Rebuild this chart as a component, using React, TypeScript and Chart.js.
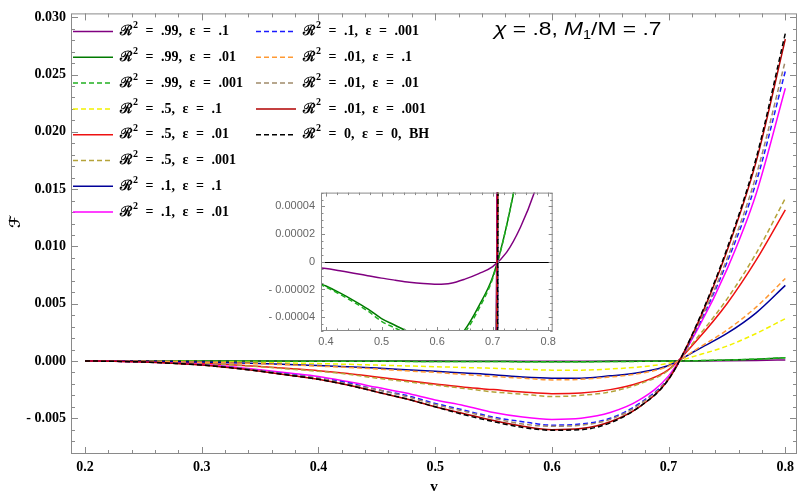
import { useEffect, useRef } from "react"
import { Chart, registerables } from "chart.js"

Chart.register(...registerables)

// sample points along v
const vValues = [0.2, 0.225, 0.25, 0.275, 0.3, 0.325, 0.35, 0.375, 0.4, 0.425, 0.45, 0.475, 0.5, 0.525, 0.55, 0.575, 0.6, 0.625, 0.65, 0.675, 0.7, 0.725, 0.75, 0.775, 0.8]

// F(v) for each (R^2, eps) pair
const fR99e1 = [0, -0.0000005, -0.000001, -0.0000015, -0.000002, -0.0000027, -0.0000033, -0.000004, -0.0000048, -0.0000065, -0.0000082, -0.00001, -0.0000118, -0.0000133, -0.0000147, -0.0000157, -0.0000162, -0.0000155, -0.0000125, -0.0000085, -0.0000035, 0.0000068, 0.000025, 0.00005, 0.000085]
const fR99e01 = [0, -0.000001, -0.000002, -0.000003, -0.000005, -0.000007, -0.0000095, -0.0000135, -0.0000175, -0.0000225, -0.000028, -0.000034, -0.000041, -0.000046, -0.000051, -0.000057, -0.00006, -0.000058, -0.000049, -0.000032, -0.000011, 0.000026, 0.000078, 0.00016, 0.00028]
const fR99e001 = [0, -0.000001, -0.000002, -0.0000032, -0.0000052, -0.0000075, -0.00001, -0.0000142, -0.0000183, -0.0000235, -0.0000292, -0.0000355, -0.000043, -0.000048, -0.000053, -0.000059, -0.000062, -0.00006, -0.000051, -0.000034, -0.000012, 0.000026, 0.00008, 0.000165, 0.00029]
const fR5e1 = [0, -0.00001, -0.00002, -0.00003, -0.00006, -0.00009, -0.00013, -0.00018, -0.00023, -0.00029, -0.00036, -0.00043, -0.0005, -0.00057, -0.00064, -0.00072, -0.0008, -0.0008, -0.0007, -0.00052, -0.0002, 0.0005, 0.0013, 0.0024, 0.0037]
const fR5e01 = [0, -0.00002, -0.00005, -0.0001, -0.0002, -0.00032, -0.00048, -0.00066, -0.00085, -0.0011, -0.0014, -0.0017, -0.002, -0.0023, -0.0025, -0.0027, -0.00285, -0.0028, -0.0025, -0.0019, -0.00075, 0.0019, 0.005, 0.0088, 0.0132]
const fR5e001 = [0, -0.00002, -0.00005, -0.00011, -0.00021, -0.00034, -0.0005, -0.0007, -0.0009, -0.00115, -0.0015, -0.0018, -0.0021, -0.0024, -0.0027, -0.0029, -0.0031, -0.003, -0.0027, -0.002, -0.0008, 0.0021, 0.0054, 0.0094, 0.0142]
const fR1e1 = [0, -0.00001, -0.00002, -0.00005, -0.0001, -0.00015, -0.00022, -0.0003, -0.0004, -0.0005, -0.00062, -0.00077, -0.0009, -0.00105, -0.0012, -0.0014, -0.0015, -0.0015, -0.0013, -0.001, -0.0004, 0.001, 0.0024, 0.0042, 0.0066]
const fR1e01 = [0, -0.00003, -0.00008, -0.00017, -0.0003, -0.0005, -0.00076, -0.00105, -0.00135, -0.0018, -0.0023, -0.0028, -0.0034, -0.0039, -0.0045, -0.0049, -0.0051, -0.005, -0.0045, -0.0034, -0.0013, 0.0028, 0.008, 0.0146, 0.0238]
const fR1e001 = [0, -0.00003, -0.00008, -0.00018, -0.00032, -0.00055, -0.00083, -0.00115, -0.0015, -0.0019, -0.0025, -0.003, -0.0037, -0.0043, -0.0049, -0.0053, -0.0056, -0.0055, -0.005, -0.0037, -0.0015, 0.003, 0.0086, 0.0156, 0.0253]
const fR01e1 = [0, -0.00001, -0.00003, -0.00006, -0.00011, -0.00017, -0.00025, -0.00034, -0.00045, -0.00056, -0.0007, -0.00086, -0.001, -0.00118, -0.00135, -0.0015, -0.00165, -0.0016, -0.0014, -0.0011, -0.00045, 0.0011, 0.0027, 0.0047, 0.0072]
const fR01e01 = [0, -0.00003, -0.00008, -0.00019, -0.00033, -0.00056, -0.00085, -0.0012, -0.0015, -0.002, -0.0025, -0.0031, -0.0038, -0.0044, -0.005, -0.0055, -0.0057, -0.0056, -0.0051, -0.0038, -0.0015, 0.0031, 0.0089, 0.0162, 0.0262]
const fR01e001 = [0, -0.00003, -0.00009, -0.0002, -0.00035, -0.0006, -0.0009, -0.00124, -0.0016, -0.0021, -0.0027, -0.0033, -0.004, -0.0046, -0.0052, -0.0057, -0.006, -0.0059, -0.0053, -0.004, -0.0016, 0.0033, 0.0096, 0.0174, 0.0281]
const fBH = [0, -0.00003, -0.00009, -0.0002, -0.00035, -0.0006, -0.0009, -0.00125, -0.0016, -0.0021, -0.0027, -0.0033, -0.004, -0.0047, -0.0053, -0.0058, -0.00605, -0.006, -0.0054, -0.004, -0.0016, 0.0034, 0.0098, 0.0177, 0.0286]

const xTicks = [0.2, 0.3, 0.4, 0.5, 0.6, 0.7, 0.8]
const xTickLabels = ["0.2", "0.3", "0.4", "0.5", "0.6", "0.7", "0.8"]
const yTicks = [-0.005, 0, 0.005, 0.01, 0.015, 0.02, 0.025, 0.03]
const yTickLabels = ["- 0.005", "0.000", "0.005", "0.010", "0.015", "0.020", "0.025", "0.030"]

const insetXTicks = [0.4, 0.5, 0.6, 0.7, 0.8]
const insetXTickLabels = ["0.4", "0.5", "0.6", "0.7", "0.8"]
const insetYTicks = [-0.00004, -0.00002, 0, 0.00002, 0.00004]
const insetYTickLabels = ["- 0.00004", "- 0.00002", "0", "0.00002", "0.00004"]

const series = [
  { label: "ℛ² = .99, ε = .1", values: fR99e1, color: "#800080", dashed: false },
  { label: "ℛ² = .99, ε = .01", values: fR99e01, color: "#007a00", dashed: false },
  { label: "ℛ² = .99, ε = .001", values: fR99e001, color: "#22b022", dashed: true },
  { label: "ℛ² = .5, ε = .1", values: fR5e1, color: "#f2f200", dashed: true },
  { label: "ℛ² = .5, ε = .01", values: fR5e01, color: "#ee1111", dashed: false },
  { label: "ℛ² = .5, ε = .001", values: fR5e001, color: "#b5a33a", dashed: true },
  { label: "ℛ² = .1, ε = .1", values: fR1e1, color: "#000099", dashed: false },
  { label: "ℛ² = .1, ε = .01", values: fR1e01, color: "#ff00ff", dashed: false },
  { label: "ℛ² = .1, ε = .001", values: fR1e001, color: "#1a1aff", dashed: true },
  { label: "ℛ² = .01, ε = .1", values: fR01e1, color: "#ff9933", dashed: true },
  { label: "ℛ² = .01, ε = .01", values: fR01e01, color: "#a08a6a", dashed: true },
  { label: "ℛ² = .01, ε = .001", values: fR01e001, color: "#b00000", dashed: false },
  { label: "ℛ² = 0, ε = 0, BH", values: fBH, color: "#000000", dashed: true },
]

const SERIF = "'Liberation Serif', 'DejaVu Serif', serif"
const SANS = "'Liberation Sans', Arial, sans-serif"
const FRAME = "#8a8a8a"
// the source figure's title is set wider than the fonts we have
const STRETCH = 1.2
// Mathematica leaves wide gaps between the legend words
const WORD_GAP = 7.5

function makeDatasets() {
  return series.map((s, i) => ({
    label: s.label,
    data: vValues.map((v, j) => ({ x: v, y: s.values[j] })),
    borderColor: s.color,
    borderWidth: 1.5,
    borderDash: s.dashed ? [5, 3] : [],
    pointRadius: 0,
    fill: false,
    cubicInterpolationMode: "monotone" as const,
    order: series.length - i,
  }))
}

type FrameOpts = { xStep: number; xMajor: number; yStep: number; yMajor: number; majorLen: number; minorLen: number }

function drawFrame(chart: Chart, o: FrameOpts) {
  const { ctx, chartArea: a } = chart
  const sx = chart.scales.x
  const sy = chart.scales.y
  const isMajor = (v: number, m: number) => Math.abs(v / m - Math.round(v / m)) < 1e-6
  ctx.save()
  ctx.strokeStyle = FRAME
  ctx.lineWidth = 1
  ctx.beginPath()
  for (let k = Math.ceil(sx.min / o.xStep - 1e-9); k * o.xStep <= sx.max + 1e-12; k++) {
    const v = k * o.xStep
    const len = isMajor(v, o.xMajor) ? o.majorLen : o.minorLen
    const px = Math.round(sx.getPixelForValue(v)) + 0.5
    ctx.moveTo(px, a.bottom)
    ctx.lineTo(px, a.bottom - len)
    ctx.moveTo(px, a.top)
    ctx.lineTo(px, a.top + len)
  }
  for (let k = Math.ceil(sy.min / o.yStep - 1e-9); k * o.yStep <= sy.max + 1e-12; k++) {
    const v = k * o.yStep
    const len = isMajor(v, o.yMajor) ? o.majorLen : o.minorLen
    const py = Math.round(sy.getPixelForValue(v)) + 0.5
    ctx.moveTo(a.left, py)
    ctx.lineTo(a.left + len, py)
    ctx.moveTo(a.right, py)
    ctx.lineTo(a.right - len, py)
  }
  ctx.stroke()
  ctx.strokeRect(a.left + 0.5, a.top + 0.5, a.right - a.left - 1, a.bottom - a.top - 1)
  ctx.restore()
}

function drawLegendLabel(ctx: CanvasRenderingContext2D, text: string, x: number, y: number) {
  const [head, tail] = text.split("²")
  const font = `bold 14px ${SERIF}`
  ctx.font = font
  ctx.fillText(head, x, y)
  let cx = x + ctx.measureText(head).width + 1
  ctx.font = `bold 10px ${SERIF}`
  ctx.fillText("2", cx, y - 6)
  cx += ctx.measureText("2").width
  ctx.font = font
  tail.split(" ").forEach((word, k) => {
    if (k > 0) cx += WORD_GAP
    ctx.fillText(word, cx, y)
    cx += ctx.measureText(word).width
  })
}

const mainDecor = {
  id: "mainDecor",
  afterDraw(chart: Chart) {
    const ctx = chart.ctx
    drawFrame(chart, { xStep: 0.02, xMajor: 0.1, yStep: 0.001, yMajor: 0.005, majorLen: 7, minorLen: 4 })

    // legend, two columns
    ctx.save()
    ctx.textBaseline = "middle"
    ctx.fillStyle = "#000"
    chart.data.datasets.forEach((ds: any, i: number) => {
      const col = i < 8 ? 0 : 1
      const row = i < 8 ? i : i - 8
      const y = 31.5 + row * 25.8
      const x0 = col === 0 ? 73 : 256
      ctx.strokeStyle = ds.borderColor
      ctx.lineWidth = 1.5
      ctx.setLineDash(ds.borderDash)
      ctx.beginPath()
      ctx.moveTo(x0, y)
      ctx.lineTo(x0 + 40, y)
      ctx.stroke()
      ctx.setLineDash([])
      drawLegendLabel(ctx, ds.label, x0 + 47, y)
    })

    // panel title
    ctx.textBaseline = "alphabetic"
    ctx.save()
    ctx.translate(494, 35)
    ctx.scale(STRETCH, 1)
    let x = 0
    const put = (t: string, font: string, dy = 0) => {
      ctx.font = font
      ctx.fillText(t, x, dy)
      x += ctx.measureText(t).width
    }
    put("χ", `italic 19px ${SANS}`)
    put(" = .8, ", `19px ${SANS}`)
    put("M", `italic 19px ${SANS}`)
    put("1", `12px ${SANS}`, 4)
    put("/M = .7", `19px ${SANS}`)
    ctx.restore()

    // axis titles
    ctx.textAlign = "center"
    ctx.textBaseline = "middle"
    ctx.font = `bold 15px ${SERIF}`
    ctx.fillText("v", 434, 487)
    ctx.translate(16, 222)
    ctx.rotate(-Math.PI / 2)
    ctx.font = `bold 15px 'DejaVu Serif', 'DejaVu Sans', serif`
    ctx.fillText("ℱ", 0, 0)
    ctx.restore()
  },
}

const insetDecor = {
  id: "insetDecor",
  beforeDatasetsDraw(chart: Chart) {
    const { ctx, chartArea: a } = chart
    const py = Math.round(chart.scales.y.getPixelForValue(0)) + 0.5
    ctx.save()
    ctx.strokeStyle = "#000"
    ctx.lineWidth = 1.2
    ctx.beginPath()
    ctx.moveTo(a.left, py)
    ctx.lineTo(a.right, py)
    ctx.stroke()
    ctx.restore()
  },
  afterDraw(chart: Chart) {
    drawFrame(chart, { xStep: 0.02, xMajor: 0.1, yStep: 0.000005, yMajor: 0.00002, majorLen: 4, minorLen: 2.5 })
  },
}

export default function App() {
  const mainRef = useRef<HTMLCanvasElement>(null)
  const insetRef = useRef<HTMLCanvasElement>(null)

  useEffect(() => {
    if (!mainRef.current || !insetRef.current) return
    const mctx = mainRef.current.getContext("2d")
    const ictx = insetRef.current.getContext("2d")
    if (!mctx || !ictx) return

    const tickFont = { family: SERIF, size: 14, weight: "bold" as const }

    const main = new Chart(mctx, {
      type: "line",
      data: { datasets: makeDatasets() },
      options: {
        responsive: false,
        animation: false,
        layout: { padding: { top: 4, right: 3, left: 0, bottom: 0 } },
        plugins: { legend: { display: false }, tooltip: { enabled: false } },
        scales: {
          x: {
            type: "linear",
            min: 0.188,
            max: 0.81,
            afterBuildTicks: (s: any) => {
              s.ticks = xTicks.map((v) => ({ value: v }))
            },
            afterFit: (s: any) => {
              s.height = 42
            },
            grid: { display: false, drawTicks: false },
            border: { display: false },
            ticks: {
              autoSkip: false,
              maxRotation: 0,
              padding: 5,
              color: "#000",
              font: tickFont,
              callback: (_v: any, i: number) => xTickLabels[i],
            },
          },
          y: {
            type: "linear",
            min: -0.00812,
            max: 0.03034,
            afterBuildTicks: (s: any) => {
              s.ticks = yTicks.map((v) => ({ value: v }))
            },
            afterFit: (s: any) => {
              s.width = 71
            },
            grid: { display: false, drawTicks: false },
            border: { display: false },
            ticks: {
              autoSkip: false,
              padding: 5,
              color: "#000",
              font: tickFont,
              callback: (_v: any, i: number) => yTickLabels[i],
            },
          },
        },
      },
      plugins: [mainDecor],
    })

    const insetFont = { family: SANS, size: 11 }

    const inset = new Chart(ictx, {
      type: "line",
      data: { datasets: makeDatasets() },
      options: {
        responsive: false,
        animation: false,
        layout: { padding: { top: 7, right: 6, left: 0, bottom: 0 } },
        plugins: { legend: { display: false }, tooltip: { enabled: false } },
        scales: {
          x: {
            type: "linear",
            min: 0.391,
            max: 0.808,
            afterBuildTicks: (s: any) => {
              s.ticks = insetXTicks.map((v) => ({ value: v }))
            },
            afterFit: (s: any) => {
              s.height = 17
            },
            grid: { display: false, drawTicks: false },
            border: { display: false },
            ticks: {
              autoSkip: false,
              maxRotation: 0,
              padding: 4,
              color: "#666",
              font: insetFont,
              callback: (_v: any, i: number) => insetXTickLabels[i],
            },
          },
          y: {
            type: "linear",
            min: -0.00005,
            max: 0.00005,
            afterBuildTicks: (s: any) => {
              s.ticks = insetYTicks.map((v) => ({ value: v }))
            },
            afterFit: (s: any) => {
              s.width = 81
            },
            grid: { display: false, drawTicks: false },
            border: { display: false },
            ticks: {
              autoSkip: false,
              padding: 6,
              color: "#666",
              font: insetFont,
              callback: (_v: any, i: number) => insetYTickLabels[i],
            },
          },
        },
      },
      plugins: [insetDecor],
    })

    return () => {
      main.destroy()
      inset.destroy()
    }
  }, [])

  return (
    <div style={{ position: "absolute", left: 0, top: 0, width: 800, height: 496, background: "#fff" }}>
      <canvas ref={mainRef} width={800} height={496} style={{ position: "absolute", left: 0, top: 0 }} />
      <canvas ref={insetRef} width={320} height={168} style={{ position: "absolute", left: 240, top: 180 }} />
    </div>
  )
}
